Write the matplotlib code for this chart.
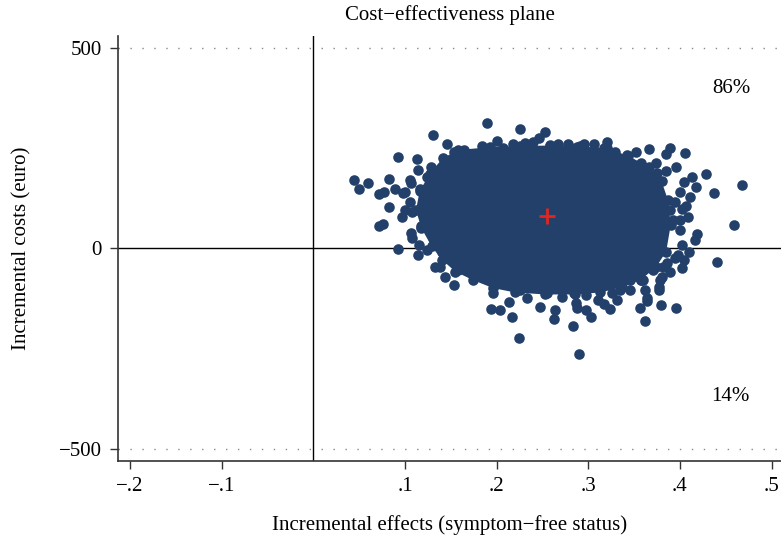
import matplotlib
matplotlib.use("Agg")
import matplotlib.pyplot as plt

plt.rcParams['font.family'] = ['Liberation Serif', 'DejaVu Serif']

# bootstrap replications outside the solid core of the cloud (effect, cost)
effects = [0.189, 0.225, 0.253, 0.131, 0.092, 0.113, 0.044, 0.050, 0.060, 0.083,
           0.072, 0.077, 0.089, 0.083, 0.072, 0.076, 0.114, 0.106, 0.098, 0.097,
           0.107, 0.108, 0.092, 0.114, 0.115, 0.124, 0.133, 0.144, 0.153, 0.131,
           0.118, 0.468, 0.459, 0.441, 0.428, 0.437, 0.406, 0.389, 0.366, 0.352,
           0.146, 0.320, 0.418, 0.413, 0.396, 0.385, 0.404, 0.411, 0.407, 0.409,
           0.400, 0.419, 0.416, 0.410, 0.402, 0.402, 0.389, 0.375, 0.357, 0.329,
           0.346, 0.377, 0.364, 0.290, 0.224, 0.283, 0.263, 0.264, 0.217, 0.194,
           0.204, 0.214, 0.247, 0.303, 0.298, 0.288, 0.324, 0.362, 0.356, 0.364,
           0.379, 0.396, 0.377, 0.196, 0.233, 0.287, 0.331, 0.317, 0.246, 0.200,
           0.184, 0.218, 0.231, 0.267, 0.278, 0.295, 0.306, 0.164,
           # left fringe
           0.107, 0.100, 0.116, 0.106, 0.100, 0.108, 0.140, 0.138, 0.128, 0.124,
           0.120, 0.158, 0.173,
           # right fringe
           0.385, 0.374, 0.400, 0.395, 0.402, 0.400, 0.395, 0.380, 0.362, 0.382,
           0.389, 0.393, 0.378, 0.386, 0.371, 0.342, 0.357,
           # lower fringe
           0.182, 0.197, 0.215, 0.226, 0.255, 0.271, 0.284, 0.298, 0.311, 0.326,
           0.335, 0.346, 0.360, 0.378, 0.382, 0.404, 0.398,
           # upper fringe
           0.153, 0.175, 0.193, 0.207, 0.240, 0.258, 0.288, 0.317, 0.342]
costs = [313, 297, 290, 283, 227, 222, 170, 149, 163, 172,
         135, 141, 147, 104, 56, 61, 195, 170, 139, 79,
         39, 25, -2, -17, 8, -4, -46, -71, -91, 25,
         55, 158, 57, -33, 184, 137, 237, 249, 247, 240,
         260, 266, 152, 178, 203, 193, 166, 129, 105, 79,
         46, 36, 21, -8, 8, -48, -58, 187, 213, 241,
         -104, -96, -125, -263, -223, -194, -175, -154, -170, -152,
         -154, -134, -145, -170, -154, -149, -152, -181, -149, -131,
         -142, -149, -104, -111, -125, -137, -129, -139, 274, 267,
         256, 259, 262, 259, 259, 259, 259, 245,
         162, 141, 147, 116, 95, 91, -8, -47, 203, 178,
         100, -54, -58,
         234, 212, 141, 116, 97, 70, -25, -71, -104, 112,
         95, 70, 21, -37, -54, -71, -79,
         -67, -83, -91, -104, -112, -121, -112, -116, -129, -112,
         -104, -79, -79, -79, -46, -29, -17,
         241, 232, 249, 249, 266, 257, 253, 249, 232]

# outline of the solid core where replications overlap completely
core_effects = [0.127, 0.141, 0.158, 0.193, 0.226, 0.258, 0.291, 0.320, 0.343, 0.366,
                0.380, 0.387, 0.390, 0.385, 0.374, 0.357, 0.337, 0.313, 0.286, 0.253,
                0.220, 0.196, 0.174, 0.155, 0.140, 0.129, 0.118, 0.112, 0.116]
core_costs = [186, 224, 245, 252, 255, 256, 254, 249, 231, 203,
              167, 120, 58, -8, -47, -79, -97, -110, -115, -115,
              -110, -99, -79, -58, -28, 5, 50, 95, 142]

mean_effect = 0.255
mean_cost = 80

x_ticks = [-0.2, -0.1, 0.1, 0.2, 0.3, 0.4, 0.5]
x_tick_labels = ['−.2', '−.1', '.1', '.2', '.3', '.4', '.5']
y_ticks = [-500, 0, 500]
y_tick_labels = ['−500', '0', '500']

share_labels = ['86%', '14%']
share_pos = [(0.456, 399), (0.455, -370)]

navy = '#22406a'

fig = plt.figure(figsize=(7.81, 5.42), dpi=100)
ax = fig.add_axes([0.1511, 0.1494, 0.8489, 0.7842])
ax.set_xlim(-0.2131, 0.5103)
ax.set_ylim(-530, 529)

# reference lines
ax.axhline(0, color='black', lw=1, zorder=1)
ax.axvline(0, color='black', lw=1, zorder=1)
for yv in (500, -500):
    ax.axhline(yv, color='#8a8a8a', lw=1, ls=(0, (1, 7.6)), zorder=1)

# scatter cloud
ax.fill(core_effects, core_costs, color=navy, lw=0, zorder=2)
ax.scatter(core_effects, core_costs, s=58, color=navy, linewidths=0, zorder=3)
ax.scatter(effects, costs, s=58, color=navy, linewidths=0, zorder=3)
ax.plot(mean_effect, mean_cost, marker='+', color='#e3261d', ms=12, mew=2, zorder=4)

for txt, (xv, yv) in zip(share_labels, share_pos):
    ax.text(xv, yv, txt, ha='center', va='center', fontsize=15)

ax.set_xticks(x_ticks)
ax.set_xticklabels(x_tick_labels)
ax.set_yticks(y_ticks)
ax.set_yticklabels(y_tick_labels)
ax.tick_params(direction='out', length=5.5, width=1, color='#333333',
               labelsize=15, pad=6)

for side in ('top', 'right'):
    ax.spines[side].set_visible(False)
for side in ('left', 'bottom'):
    ax.spines[side].set_color('#333333')
    ax.spines[side].set_linewidth(1.2)

fig.text(0.576, 0.972, 'Cost−effectiveness plane', ha='center', va='center', fontsize=15)
fig.text(0.576, 0.031, 'Incremental effects (symptom−free status)', ha='center',
         va='center', fontsize=15)
fig.text(0.028, 0.541, 'Incremental costs (euro)', ha='center', va='center',
         rotation=90, fontsize=15)

fig.savefig('out.png', dpi=100)
